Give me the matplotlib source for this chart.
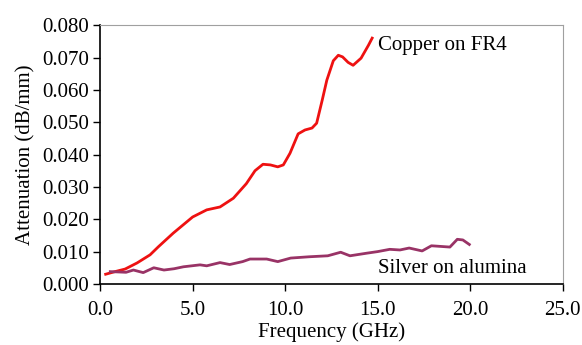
import matplotlib.pyplot as plt
import numpy as np

plt.rcParams['font.family'] = ['Liberation Serif', 'DejaVu Serif']

# Copper on FR4
cu_freq = [0.3, 0.8, 1.35, 2.0, 2.7, 3.15, 3.95, 5.0, 5.76, 6.48, 7.2, 7.9, 8.37,
           8.8, 9.2, 9.6, 9.9, 10.26, 10.7, 11.07, 11.45, 11.7, 12.0, 12.25, 12.6,
           12.87, 13.1, 13.4, 13.67, 14.1, 14.5, 14.7]
cu_att = [0.0030, 0.0038, 0.0046, 0.0065, 0.0090, 0.0115, 0.0157, 0.0207, 0.0229,
          0.0238, 0.0265, 0.0310, 0.0350, 0.0370, 0.0368, 0.0362, 0.0368, 0.0404,
          0.0464, 0.0476, 0.0482, 0.0497, 0.0568, 0.0630, 0.0690, 0.0707, 0.0702,
          0.0685, 0.0676, 0.0698, 0.0738, 0.0760]

# Silver on alumina
ag_freq = [0.55, 1.0, 1.4, 1.8, 2.33, 2.9, 3.45, 4.0, 4.5, 5.4, 5.76, 6.48, 7.0,
           7.7, 8.1, 9.0, 9.6, 10.3, 11.3, 12.3, 13.0, 13.5, 14.4, 15.0, 15.65,
           16.2, 16.7, 17.4, 17.9, 18.9, 19.3, 19.6, 19.95]
ag_att = [0.0038, 0.0037, 0.0036, 0.0043, 0.0035, 0.0050, 0.0043, 0.0047, 0.0053,
          0.0059, 0.0056, 0.0066, 0.0060, 0.0069, 0.0077, 0.0077, 0.0069, 0.0080,
          0.0084, 0.0087, 0.0098, 0.0087, 0.0095, 0.0100, 0.0107, 0.0105, 0.0111,
          0.0102, 0.0118, 0.0114, 0.0138, 0.0136, 0.0122]

x_ticks = [0, 5, 10, 15, 20, 25]
y_ticks = [0, 0.01, 0.02, 0.03, 0.04, 0.05, 0.06, 0.07, 0.08]

fig = plt.figure(figsize=(5.82, 3.45), dpi=100)
ax = fig.add_axes([0.172, 0.177, 0.795, 0.75])

ax.plot(cu_freq, cu_att, color='#ee1111', lw=2.0)
ax.plot(ag_freq, ag_att, color='#993366', lw=2.0)

ax.set_xlim(0, 25)
ax.set_ylim(0, 0.08)
ax.set_xticks(x_ticks)
ax.set_xticklabels(['%.1f' % v for v in x_ticks])
ax.set_yticks(y_ticks)
ax.set_yticklabels(['%.3f' % v for v in y_ticks])
ax.tick_params(labelsize=15, direction='out', length=5, width=1)
ax.tick_params(axis='x', pad=7)
ax.tick_params(axis='y', pad=3)

for s in ['top', 'right']:
    ax.spines[s].set_color('#a0a0a0')
for s in ['left', 'bottom']:
    ax.spines[s].set_color('black')
    ax.spines[s].set_linewidth(1.2)

ax.set_xlabel('Frequency (GHz)', fontsize=15, labelpad=2)
ax.set_ylabel('Attenuation (dB/mm)', fontsize=15, labelpad=5)

ax.text(15.0, 0.0738, 'Copper on FR4', fontsize=15, va='center', ha='left')
ax.text(15.0, 0.0048, 'Silver on alumina', fontsize=15, va='center', ha='left')

fig.savefig('out.png', dpi=100)
